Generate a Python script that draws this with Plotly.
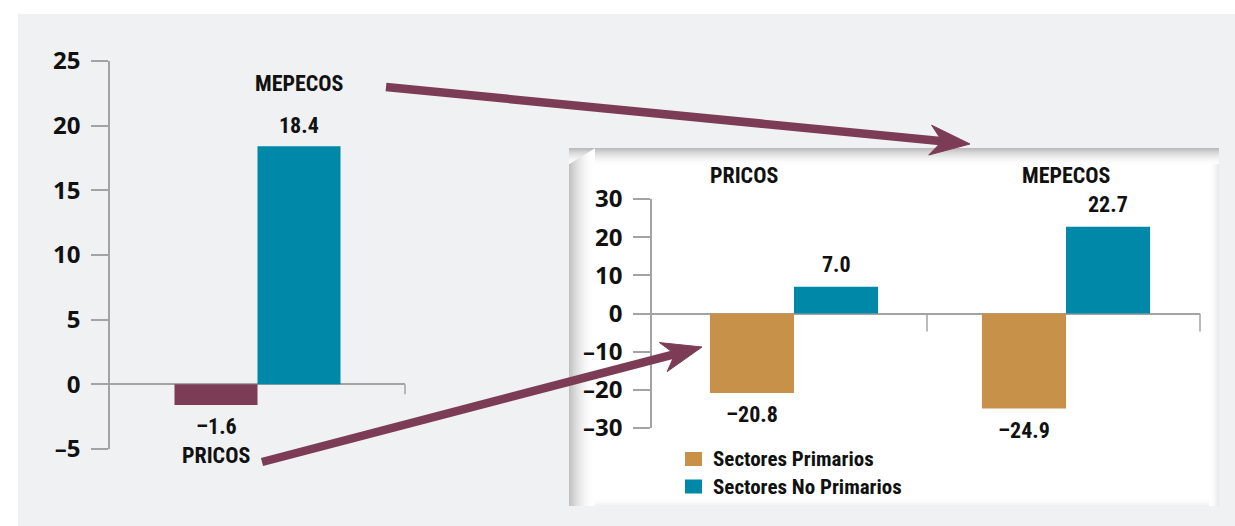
import numpy as np
import plotly.graph_objects as go

W, H = 1235, 526

# ---------------- data ----------------
left_categories = ["PRICOS", "MEPECOS"]
left_values = [-1.6, 18.4]
left_value_labels = ["–1.6", "18.4"]
left_colors = ["#7d3c55", "#0088a9"]

inset_categories = ["PRICOS", "MEPECOS"]
series_names = ["Sectores Primarios", "Sectores No Primarios"]
primarios = [-20.8, -24.9]
no_primarios = [7.0, 22.7]
primarios_labels = ["–20.8", "–24.9"]
no_primarios_labels = ["7.0", "22.7"]
series_colors = ["#c8914a", "#0088a9"]

left_tickvals = [-5, 0, 5, 10, 15, 20, 25]
left_ticktext = ["–5", "0", "5", "10", "15", "20", "25"]
inset_tickvals = [-30, -20, -10, 0, 10, 20, 30]
inset_ticktext = ["–30", "–20", "–10", "0", "10", "20", "30"]

# ---------------- style ----------------
BG = "#f0f1f3"
AXIS = "#a3a3a3"
ARROW = "#7d3c55"
COND = "Liberation Sans Narrow, Roboto Condensed, DejaVu Sans Condensed, Roboto, sans-serif"
TICKF = "Open Sans, Lato, sans-serif"
BAR_W = 0.309


def px(x):
    return x / W


def py(y):
    return 1 - y / H


fig = go.Figure()

# left chart
fig.add_trace(go.Bar(
    x=left_categories, y=left_values, marker=dict(color=left_colors, line=dict(width=0)),
    width=1.0, xaxis="x", yaxis="y", showlegend=False, hoverinfo="x+y"))

# inset chart
fig.add_trace(go.Bar(
    name=series_names[0], x=inset_categories, y=primarios,
    marker=dict(color=series_colors[0], line=dict(width=0)),
    width=BAR_W, offset=-BAR_W, xaxis="x2", yaxis="y2", showlegend=False))
fig.add_trace(go.Bar(
    name=series_names[1], x=inset_categories, y=no_primarios,
    marker=dict(color=series_colors[1], line=dict(width=0)),
    width=BAR_W, offset=0, xaxis="x2", yaxis="y2", showlegend=False))

shapes = []
# gray background
shapes.append(dict(type="rect", xref="paper", yref="paper", x0=px(18), x1=px(1240), y0=-0.05, y1=py(14),
                   fillcolor=BG, line=dict(width=0), layer="below"))
# inset panel
PL, PT, PR, PB = 569, 148, 1219, 506
shapes.append(dict(type="rect", xref="paper", yref="paper", x0=px(PL), x1=px(PR), y0=py(PB), y1=py(PT),
                   fillcolor="white", line=dict(width=0), layer="below"))


def gray(v):
    v = int(round(v))
    return f"rgb({v},{v},{v})"


# inner shadow bands
for i in range(18):  # top
    t = (1 - i / 18) ** 2
    shapes.append(dict(type="rect", xref="paper", yref="paper", x0=px(PL), x1=px(PR),
                       y0=py(PT + i + 1), y1=py(PT + i), fillcolor=gray(255 - 68 * t),
                       line=dict(width=0), layer="below"))
for i in range(26):  # left
    t = (1 - i / 26) ** 2
    shapes.append(dict(type="rect", xref="paper", yref="paper", x0=px(PL + i), x1=px(PL + i + 1),
                       y0=py(PB), y1=py(PT + 16 * (1 - i / 26)), fillcolor=gray(255 - 62 * t),
                       line=dict(width=0), layer="below"))
for i in range(10):  # right
    t = (1 - i / 10) ** 2
    shapes.append(dict(type="rect", xref="paper", yref="paper", x0=px(PR - i - 1), x1=px(PR - i),
                       y0=py(PB), y1=py(PT + 16), fillcolor=gray(255 - 22 * t),
                       line=dict(width=0), layer="below"))
for i in range(8):  # bottom
    t = (1 - i / 8) ** 2
    shapes.append(dict(type="rect", xref="paper", yref="paper", x0=px(PL + 26), x1=px(PR - 10),
                       y0=py(PB - i), y1=py(PB - i - 1), fillcolor=gray(255 - 14 * t),
                       line=dict(width=0), layer="below"))

# right-end ticks on zero lines
shapes.append(dict(type="line", xref="x domain", yref="y", x0=1, x1=1, y0=0, y1=-10,
                   ysizemode="pixel", yanchor=0, line=dict(color=AXIS, width=1.5)))
for xd in (0.5018, 1.0):
    shapes.append(dict(type="line", xref="x2 domain", yref="y2", x0=xd, x1=xd, y0=0, y1=-18,
                       ysizemode="pixel", yanchor=0, line=dict(color=AXIS, width=1.5)))


# arrows (drawn in pixel space, converted to paper)
def arrow(start, tip, head_len=40, half_w=15, notch=28, lw=8.5):
    s = np.array(start, float)
    t = np.array(tip, float)
    d = t - s
    u = d / np.linalg.norm(d)
    n = np.array([-u[1], u[0]])
    base = t - u * head_len
    b1 = base + n * half_w
    b2 = base - n * half_w
    nb = t - u * notch
    out = [dict(type="line", xref="paper", yref="paper", x0=px(s[0]), y0=py(s[1]),
                x1=px(nb[0] + u[0] * 3), y1=py(nb[1] + u[1] * 3), line=dict(color=ARROW, width=lw),
                layer="above")]
    pts = [t, b1, nb, b2]
    path = "M " + " L ".join(f"{px(p[0]):.5f},{py(p[1]):.5f}" for p in pts) + " Z"
    out.append(dict(type="path", xref="paper", yref="paper", path=path, fillcolor=ARROW,
                    line=dict(color=ARROW, width=1), layer="above"))
    return out


shapes += arrow((386, 87), (970, 144))
shapes += arrow((262, 462), (702, 347))

# custom legend squares
LEG_Y = [459, 486.5]
for c, yy in zip(series_colors, LEG_Y):
    shapes.append(dict(type="rect", xref="paper", yref="paper", x0=px(685), x1=px(702),
                       y0=py(yy + 7), y1=py(yy - 7), fillcolor=c, line=dict(width=0)))

annotations = []
cond = lambda s: dict(family=COND, size=s, color="#111111", weight="bold")

# left chart labels
for i, (cat, v, lab) in enumerate(zip(left_categories, left_values, left_value_labels)):
    sgn = 1 if v >= 0 else -1
    annotations.append(dict(x=i, y=v, xref="x", yref="y", text=lab, showarrow=False,
                            yshift=sgn * 21, font=cond(22)))
    annotations.append(dict(x=i, y=v, xref="x", yref="y", text=cat, showarrow=False,
                            yshift=sgn * (63 if v >= 0 else 50), font=cond(22)))

# inset labels
half = BAR_W / 2
for i, cat in enumerate(inset_categories):
    annotations.append(dict(x=i, y=py(175), xref="x2", yref="paper", text=cat, showarrow=False,
                            xshift=(-50 if i == 0 else 0), yanchor="middle", font=cond(22)))
    annotations.append(dict(x=i - half, y=primarios[i], xref="x2", yref="y2", text=primarios_labels[i],
                            showarrow=False, yshift=-22, font=cond(22)))
    annotations.append(dict(x=i + half, y=no_primarios[i], xref="x2", yref="y2", text=no_primarios_labels[i],
                            showarrow=False, yshift=22, font=cond(22)))

# legend texts
for name, yy in zip(series_names, LEG_Y):
    annotations.append(dict(x=px(711), y=py(yy), xref="paper", yref="paper", text=name, showarrow=False,
                            xanchor="left", yanchor="middle", font=cond(21)))

tickfont = dict(family=TICKF, size=24, color="#111111", weight="bold")
yaxis_common = dict(showline=True, linecolor=AXIS, linewidth=1.5, ticks="outside", ticklen=17,
                    tickcolor=AXIS, tickwidth=1.5, showgrid=False, zeroline=True, zerolinecolor=AXIS,
                    zerolinewidth=1.5, tickfont=tickfont, ticklabelstandoff=6, fixedrange=True,
                    automargin=False)
xaxis_common = dict(showticklabels=False, showline=False, zeroline=False, showgrid=False, ticks="",
                    fixedrange=True, automargin=False)

fig.update_layout(
    template="none",
    width=W, height=H, autosize=False,
    margin=dict(l=0, r=0, t=0, b=0, pad=0, autoexpand=False),
    paper_bgcolor="white", plot_bgcolor="rgba(0,0,0,0)",
    barmode="overlay",
    xaxis=dict(domain=[px(110), px(405)], range=[-1.277, 2.277], type="category", **xaxis_common),
    yaxis=dict(domain=[py(449), py(61)], range=[-5, 25], tickvals=left_tickvals, ticktext=left_ticktext,
               anchor="x", **yaxis_common),
    xaxis2=dict(domain=[px(652), px(1200)], range=[-0.522, 1.4926], type="category", anchor="y2",
                **xaxis_common),
    yaxis2=dict(domain=[py(428), py(199)], range=[-30, 30], tickvals=inset_tickvals, ticktext=inset_ticktext,
                anchor="x2", **yaxis_common),
    shapes=shapes,
    annotations=annotations,
    showlegend=False,
)

post = ("document.documentElement.style.margin='0';document.body.style.margin='0';"
        "document.body.style.overflow='hidden';")

fig.write_html("out.html", post_script=post, config={"responsive": False, "displayModeBar": False})
